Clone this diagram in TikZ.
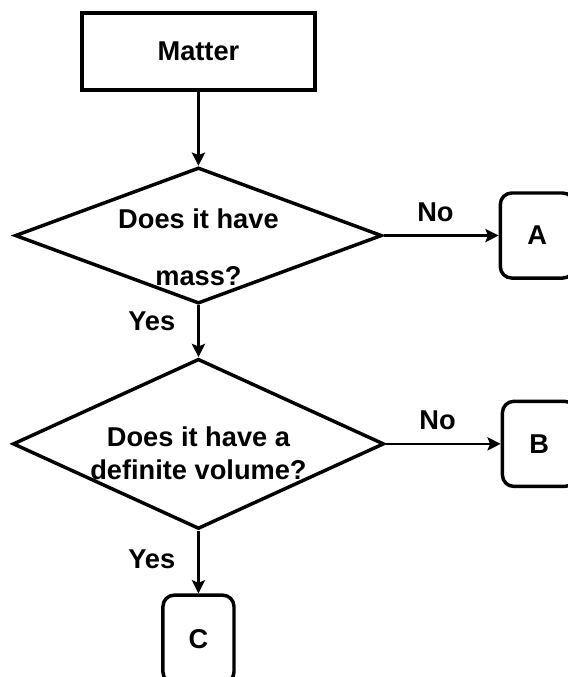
\documentclass[tikz,border=0pt]{standalone}
\usepackage{fontspec}
\setmainfont{Liberation Sans}
\usetikzlibrary{positioning,shapes.geometric,arrows.meta}

\begin{document}
\begin{tikzpicture}[
        font=\fontsize{20.5}{25}\selectfont\bfseries,
        box/.style={rectangle, draw, line width=2.6pt, minimum width=6.17cm, minimum height=2.04cm, align=center},
        decision/.style={diamond, draw, line width=2.6pt, inner sep=0pt},
        result/.style={rectangle, draw, rounded corners=0.3cm, line width=2.6pt, minimum width=1.95cm, minimum height=2.25cm},
        arrow/.style={line width=1.6pt, -{Stealth[length=10pt, width=10pt, inset=2pt]}},
        answer/.style={inner sep=1pt}
    ]

        % Fondo
        \path[use as bounding box, fill=white] (-5.25,1.36) rectangle (9.75,-16.55);

        % Caja inicial
        \node[box] (matter) {Matter};

        % Preguntas
        \node[decision, minimum width=9.71cm, minimum height=3.6cm, below=1.96cm of matter] (q1) {};
        \node[align=center, yshift=-0.32cm] (q1text) at (q1) {Does it have\\[18pt]mass?};
        \node[decision, minimum width=9.82cm, minimum height=4.5cm, below=1.37cm of q1] (q2) {};
        \node[align=center, yshift=-0.24cm] (q2text) at (q2) {Does it have a\\definite volume?};

        % Resultados
        \node[result, right=3.04cm of q1] (boxA) {A};
        \node[result, right=3.04cm of q2] (boxB) {B};
        \node[result, minimum width=1.88cm, minimum height=2.33cm, below=1.66cm of q2] (boxC) {C};

        % Conexiones
        \draw[arrow] (matter) -- (q1);
        \draw[arrow] (q1) -- node[answer, pos=0.45, above=0.3cm] (no1) {No} (boxA);
        \draw[arrow] (q1) -- node[answer, pos=0.3, left=0.55cm] (yes1) {Yes} (q2);
        \draw[arrow] (q2) -- node[answer, pos=0.45, above=0.3cm] (no2) {No} (boxB);
        \draw[arrow] (q2) -- node[answer, pos=0.45, left=0.55cm] (yes2) {Yes} (boxC);

    \end{tikzpicture}
\end{document}
